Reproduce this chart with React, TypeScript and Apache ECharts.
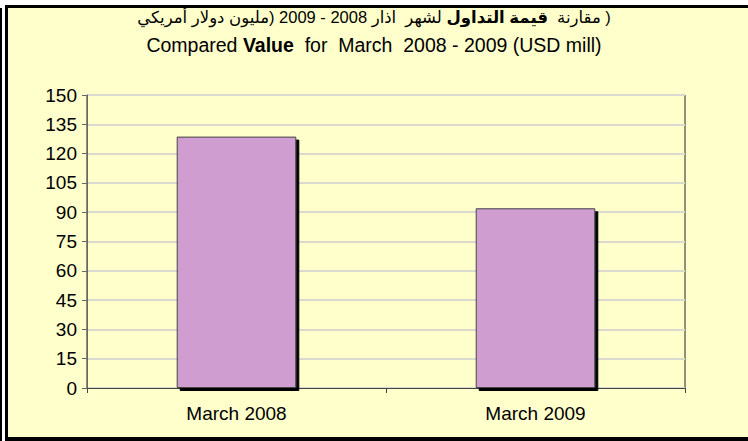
import React, { useEffect, useRef } from "react";
import * as echarts from "echarts";

const categories: string[] = ["March 2008", "March 2009"];
const values: number[] = [128.7, 92];
const yMin = 0;
const yMax = 150;
const yInterval = 15;

// Arabic title pieces in visual left-to-right order, bold flag, spaces after each
const arWords: string[] = ["أمريكي", "دولار", "مليون", ")", "2009 - 2008", "اذار", "لشهر", "التداول", "قيمة", "مقارنة", ")"];
const arBold: boolean[] = [false, false, false, false, false, false, false, true, true, false, false];
const arGaps: number[] = [1, 1, 0, 1, 1, 2, 1, 1, 2, 1, 0];
const titleEnA = "Compared ";
const titleEnBold = "Value";
const titleEnC = "  for  March  2008 - 2009 (USD mill)";

const FONT = "Arial, 'Liberation Sans', 'DejaVu Sans', sans-serif";
const AR_SIZE = 16.5;

export default function App() {
  const ref = useRef<HTMLDivElement>(null);
  useEffect(() => {
    document.body.style.margin = "0";
    const chart = echarts.init(ref.current!, null, { renderer: "svg" });
    const edge = (x: number, y: number, w: number, h: number, fill: string) => ({
      type: "rect",
      silent: true,
      z: 100,
      shape: { x, y, width: w, height: h },
      style: { fill },
    });

    const cv = document.createElement("canvas");
    const ctx = cv.getContext("2d")!;
    const measure = (t: string, bold: boolean) => {
      ctx.font = (bold ? "bold " : "") + AR_SIZE + "px " + FONT;
      return ctx.measureText(t).width;
    };
    const spaceW = measure(" ", false);
    const widths = arWords.map((w, i) => measure(w, arBold[i]));
    let total = 0;
    widths.forEach((w, i) => {
      total += w + (i < widths.length - 1 ? arGaps[i] * spaceW : 0);
    });
    let cx = 374 - total / 2;
    const arTexts: any[] = [];
    arWords.forEach((w, i) => {
      arTexts.push({
        type: "text",
        silent: true,
        x: cx,
        y: 17,
        style: {
          text: w,
          fill: "#000",
          fontSize: AR_SIZE,
          fontFamily: FONT,
          fontWeight: arBold[i] ? "bold" : "normal",
          textAlign: "left",
          textVerticalAlign: "middle",
          align: "left",
          verticalAlign: "middle",
        },
      });
      cx += widths[i] + arGaps[i] * spaceW;
    });

    chart.setOption({
      animation: false,
      backgroundColor: "#FFFFCC",
      textStyle: { fontFamily: FONT },
      title: {
        left: "center",
        top: 31,
        padding: 0,
        text: "{a|" + titleEnA + "}{b|" + titleEnBold + "}{a|" + titleEnC + "}",
        textStyle: {
          fontFamily: FONT,
          fontSize: 19.5,
          fontWeight: "normal",
          color: "#000",
          lineHeight: 27,
          rich: {
            a: { fontFamily: FONT, fontSize: 19.5, color: "#000", lineHeight: 27 },
            b: { fontFamily: FONT, fontSize: 19.5, fontWeight: "bold", color: "#000", lineHeight: 27 },
          },
        },
      },
      grid: {
        left: 87,
        right: 63,
        top: 95,
        bottom: 53,
        show: true,
        backgroundColor: "transparent",
        borderColor: "#222",
        borderWidth: 1,
      },
      xAxis: {
        type: "category",
        data: categories,
        axisLine: { lineStyle: { color: "#444", width: 1 } },
        axisTick: { show: true, length: 5, lineStyle: { color: "#444" } },
        axisLabel: { color: "#000", fontSize: 19, margin: 16, fontFamily: FONT },
      },
      yAxis: {
        type: "value",
        min: yMin,
        max: yMax,
        interval: yInterval,
        axisLine: { show: true, lineStyle: { color: "#666", width: 1 } },
        axisTick: { show: true, length: 5, lineStyle: { color: "#666" } },
        axisLabel: { color: "#000", fontSize: 19, margin: 10, fontFamily: FONT },
        splitLine: { show: true, lineStyle: { color: "#D9D9D0", width: 2 } },
      },
      series: [
        {
          type: "bar",
          data: values,
          barWidth: "40%",
          itemStyle: {
            color: "#D09DD1",
            borderColor: "#444",
            borderWidth: 1,
            shadowColor: "#000",
            shadowOffsetX: 3,
            shadowOffsetY: 3,
            shadowBlur: 0,
          },
        },
      ],
      graphic: [
        ...arTexts,
        edge(0, 0, 748, 5, "#FFFFFF"),
        edge(0, 0, 5, 441, "#FFFFFF"),
        edge(0, 8, 2, 433, "#000000"),
        edge(5, 5, 743, 3, "#000000"),
        edge(5, 5, 3, 436, "#000000"),
        edge(5, 437, 743, 4, "#000000"),
      ],
    });
    return () => chart.dispose();
  }, []);
  return (
    <div
      ref={ref}
      style={{ width: 748, height: 441, position: "absolute", left: 0, top: 0 }}
    />
  );
}
